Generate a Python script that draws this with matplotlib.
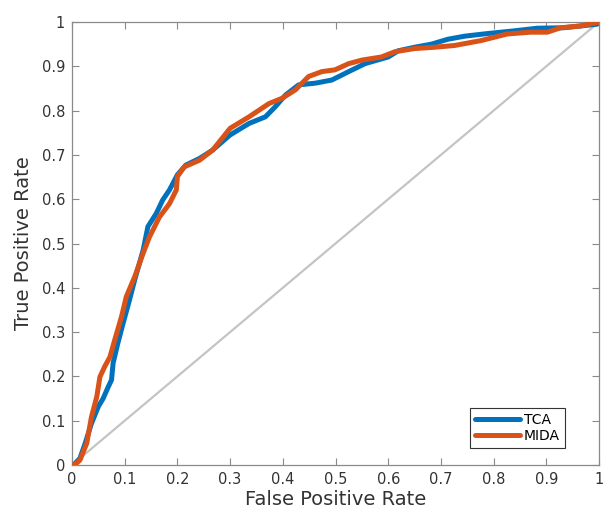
import matplotlib
matplotlib.use("Agg")
import matplotlib.pyplot as plt

tca_fpr = [0.0, 0.003, 0.015, 0.025, 0.037, 0.05, 0.059, 0.069, 0.075, 0.078, 0.087, 0.097,
           0.109, 0.119, 0.135, 0.144, 0.16, 0.172, 0.185, 0.2, 0.216, 0.242, 0.267, 0.3,
           0.336, 0.367, 0.386, 0.405, 0.43, 0.462, 0.493, 0.525, 0.556, 0.6, 0.619, 0.65,
           0.682, 0.713, 0.745, 0.789, 0.839, 0.883, 0.933, 0.996, 1.0]
tca_tpr = [0.0, 0.0, 0.015, 0.049, 0.094, 0.132, 0.15, 0.177, 0.192, 0.23, 0.275, 0.32,
           0.372, 0.418, 0.485, 0.538, 0.568, 0.598, 0.621, 0.655, 0.677, 0.692, 0.711, 0.745,
           0.771, 0.786, 0.809, 0.835, 0.858, 0.862, 0.869, 0.888, 0.906, 0.921, 0.935, 0.943,
           0.95, 0.961, 0.968, 0.974, 0.98, 0.986, 0.987, 0.995, 1.0]

mida_fpr = [0.0, 0.005, 0.015, 0.028, 0.037, 0.047, 0.053, 0.062, 0.072, 0.081, 0.094, 0.103,
            0.119, 0.135, 0.147, 0.166, 0.185, 0.198, 0.2, 0.213, 0.242, 0.267, 0.3, 0.336,
            0.374, 0.399, 0.424, 0.449, 0.474, 0.499, 0.525, 0.55, 0.587, 0.613, 0.65, 0.688,
            0.726, 0.776, 0.826, 0.87, 0.902, 0.927, 0.965, 1.0]
mida_tpr = [0.0, 0.0, 0.011, 0.049, 0.109, 0.154, 0.199, 0.222, 0.244, 0.282, 0.335, 0.38,
            0.425, 0.478, 0.515, 0.56, 0.59, 0.621, 0.651, 0.673, 0.688, 0.711, 0.76, 0.786,
            0.816, 0.828, 0.847, 0.877, 0.888, 0.892, 0.906, 0.914, 0.921, 0.933, 0.94, 0.943,
            0.947, 0.958, 0.973, 0.977, 0.977, 0.987, 0.991, 1.0]

chance = [0, 1]
ticks = [0, 0.1, 0.2, 0.3, 0.4, 0.5, 0.6, 0.7, 0.8, 0.9, 1]
tick_labels = ["0", "0.1", "0.2", "0.3", "0.4", "0.5", "0.6", "0.7", "0.8", "0.9", "1"]

fig = plt.figure(figsize=(6.05, 5.15), dpi=100)
ax = fig.add_axes([72/605, 1-465/515, 527/605, 443/515])

ax.plot(chance, chance, color="#c4c4c4", lw=1.6, zorder=1)
ax.plot(tca_fpr, tca_tpr, color="#0072BD", lw=3.6, label="TCA", zorder=2,
        solid_joinstyle="round", solid_capstyle="round")
ax.plot(mida_fpr, mida_tpr, color="#D95319", lw=3.6, label="MIDA", zorder=3,
        solid_joinstyle="round", solid_capstyle="round")

ax.set_xlim(0, 1)
ax.set_ylim(0, 1)
ax.set_xticks(ticks)
ax.set_xticklabels(tick_labels)
ax.set_yticks(ticks)
ax.set_yticklabels(tick_labels)
ax.tick_params(direction="in", length=5, width=0.8, colors="#8a8a8a",
               labelcolor="#333333", labelsize=10.5, top=True, right=True, pad=5)
for s in ax.spines.values():
    s.set_color("#8a8a8a")
    s.set_linewidth(0.9)

ax.set_xlabel("False Positive Rate", fontsize=14, color="#333333", labelpad=2)
ax.set_ylabel("True Positive Rate", fontsize=14, color="#333333", labelpad=6)

leg = ax.legend(loc="lower right", bbox_to_anchor=(0.935, 0.038), fontsize=10,
                fancybox=False, framealpha=1, handlelength=3.2, handletextpad=0.3,
                borderpad=0.35, labelspacing=0.2, borderaxespad=0)
leg.get_frame().set_edgecolor("#333333")
leg.get_frame().set_linewidth(0.8)

fig.savefig("out.png", dpi=100)
